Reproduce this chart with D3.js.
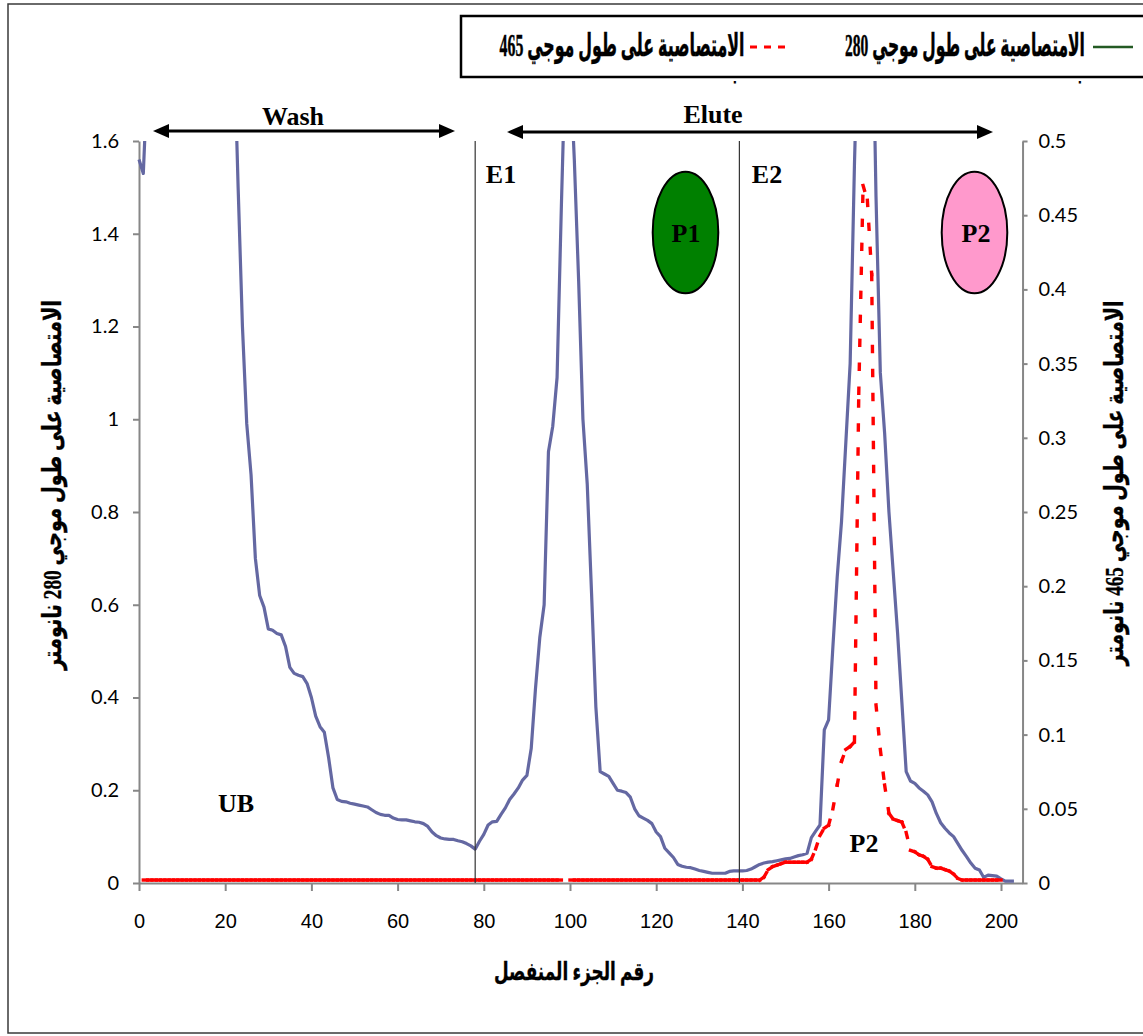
<!DOCTYPE html>
<html><head><meta charset="utf-8">
<script src="https://cdn.jsdelivr.net/npm/d3@7"></script>
<style>body{margin:0;background:#fff} svg{display:block}</style>
</head><body><svg id="c" width="1143" height="1036"></svg>
<script>
// ---------------- DATA ----------------
const fractions = d3.range(0, 204);   // fraction numbers 0..203

// absorbance at 280 nm (left axis); null = off-chart (above 1.6), unknown
const blue280 = [
  1.56, 1.53, 1.75, null, null, null, null, null, null, null,
  null, null, null, null, null, null, null, null, null, null,
  null, null, 1.83, 1.5, 1.2, 0.99, 0.88, 0.70, 0.62, 0.595,
  0.548, 0.545, 0.538, 0.535, 0.51, 0.465, 0.452, 0.448, 0.445, 0.43,
  0.40, 0.36, 0.337, 0.325, 0.27, 0.205, 0.18, 0.176, 0.175, 0.172,
  0.17, 0.168, 0.166, 0.164, 0.158, 0.152, 0.148, 0.146, 0.146, 0.14,
  0.137, 0.136, 0.136, 0.134, 0.132, 0.131, 0.128, 0.122, 0.11, 0.102,
  0.097, 0.095, 0.094, 0.094, 0.091, 0.089, 0.085, 0.08, 0.073, 0.09,
  0.105, 0.125, 0.132, 0.133, 0.148, 0.162, 0.18, 0.192, 0.205, 0.222,
  0.232, 0.29, 0.42, 0.53, 0.6, 0.93, 0.985, 1.09, 1.46, 1.8,
  1.77, 1.56, 1.3, 1.0, 0.86, 0.625, 0.38, 0.24, 0.235, 0.23,
  0.215, 0.2, 0.198, 0.195, 0.185, 0.16, 0.145, 0.14, 0.135, 0.128,
  0.11, 0.1, 0.075, 0.065, 0.055, 0.04, 0.036, 0.034, 0.033, 0.03,
  0.027, 0.025, 0.023, 0.021, 0.021, 0.021, 0.021, 0.025, 0.026, 0.026,
  0.026, 0.027, 0.03, 0.035, 0.04, 0.043, 0.045, 0.046, 0.048, 0.05,
  0.052, 0.053, 0.056, 0.059, 0.061, 0.064, 0.098, 0.112, 0.125, 0.33,
  0.352, 0.51, 0.66, 0.78, 0.95, 1.12, 1.55, 1.9, null, null,
  2.0, 1.48, 1.1, 0.97, 0.8, 0.67, 0.54, 0.39, 0.24, 0.22,
  0.215, 0.205, 0.198, 0.19, 0.175, 0.15, 0.13, 0.118, 0.108, 0.1,
  0.085, 0.07, 0.057, 0.043, 0.032, 0.028, 0.012, 0.017, 0.016, 0.015,
  0.009, 0.004, 0.004, 0.004
];

// absorbance at 465 nm (right axis)
const red465 = [
  null, 0.002, 0.002, 0.002, 0.002, 0.002, 0.002, 0.002, 0.002, 0.002,
  0.002, 0.002, 0.002, 0.002, 0.002, 0.002, 0.002, 0.002, 0.002, 0.002,
  0.002, 0.002, 0.002, 0.002, 0.002, 0.002, 0.002, 0.002, 0.002, 0.002,
  0.002, 0.002, 0.002, 0.002, 0.002, 0.002, 0.002, 0.002, 0.002, 0.002,
  0.002, 0.002, 0.002, 0.002, 0.002, 0.002, 0.002, 0.002, 0.002, 0.002,
  0.002, 0.002, 0.002, 0.002, 0.002, 0.002, 0.002, 0.002, 0.002, 0.002,
  0.002, 0.002, 0.002, 0.002, 0.002, 0.002, 0.002, 0.002, 0.002, 0.002,
  0.002, 0.002, 0.002, 0.002, 0.002, 0.002, 0.002, 0.002, 0.002, 0.002,
  0.002, 0.002, 0.002, 0.002, 0.002, 0.002, 0.002, 0.002, 0.002, 0.002,
  0.002, 0.002, 0.002, 0.002, 0.002, 0.002, 0.002, 0.002, 0.002, null,
  0.002, 0.002, 0.002, 0.002, 0.002, 0.002, 0.002, 0.002, 0.002, 0.002,
  0.002, 0.002, 0.002, 0.002, 0.002, 0.002, 0.002, 0.002, 0.002, 0.002,
  0.002, 0.002, 0.002, 0.002, 0.002, 0.002, 0.002, 0.002, 0.002, 0.002,
  0.002, 0.002, 0.002, 0.002, 0.002, 0.002, 0.002, 0.002, 0.002, 0.002,
  0.002, 0.002, 0.002, 0.002, 0.002, 0.004, 0.009, 0.011, 0.012, 0.013,
  0.014, 0.014, 0.014, 0.014, 0.014, 0.014, 0.016, 0.023, 0.032, 0.037,
  0.039, 0.05, 0.066, 0.082, 0.09, 0.092, 0.095, 0.33, 0.47, 0.46,
  0.41, 0.12, 0.09, 0.066, 0.047, 0.043, 0.042, 0.041, 0.034, 0.022,
  0.021, 0.019, 0.018, 0.016, 0.011, 0.01, 0.01, 0.009, 0.008, 0.006,
  0.003, 0.002, 0.002, 0.002, 0.002, 0.002, 0.002, 0.002, 0.002, 0.002,
  0.002, null, null, null
];

const xTicks = [0, 20, 40, 60, 80, 100, 120, 140, 160, 180, 200];
const xTickLabels = ["0","20","40","60","80","100","120","140","160","180","200"];
const leftTicks = [0, 0.2, 0.4, 0.6, 0.8, 1, 1.2, 1.4, 1.6];
const leftTickLabels = ["0","0.2","0.4","0.6","0.8","1","1.2","1.4","1.6"];
const rightTicks = [0, 0.05, 0.1, 0.15, 0.2, 0.25, 0.3, 0.35, 0.4, 0.45, 0.5];
const rightTickLabels = ["0","0.05","0.1","0.15","0.2","0.25","0.3","0.35","0.4","0.45","0.5"];
const dividers = [78, 139.3];
const seriesNames = ["الامتصاصية على طول موجي 280", "الامتصاصية على طول موجي 465"];
const unitWord = "نانومتر";
const leftTitle = "الامتصاصية على طول موجي 280 نانومتر";
const rightTitle = "الامتصاصية على طول موجي 465 نانومتر";
const xTitle = "رقم الجزء المنفصل";

// ---------------- LAYOUT ----------------
const svg = d3.select("#c");
const X0 = 139, Y0 = 883, YTOP = 141;
const x = d3.scaleLinear().domain([0, 205]).range([X0, X0 + 205 * 4.31]);
const yL = d3.scaleLinear().domain([0, 1.6]).range([Y0, YTOP]);
const yR = d3.scaleLinear().domain([0, 0.5]).range([Y0, YTOP]);
const XR = x(205);

const serif = "'Liberation Serif', 'Times New Roman', serif";
const arab = "'Liberation Serif', 'DejaVu Sans', sans-serif";
const AXC = "#878787";

svg.append("rect").attr("width", 1143).attr("height", 1036).attr("fill", "#fff");
// outer frame
svg.append("rect").attr("x", 8).attr("y", 4).attr("width", 1160).attr("height", 1029)
  .attr("fill", "none").attr("stroke", "#3a3a3a").attr("stroke-width", 1.5);

// clip
svg.append("clipPath").attr("id", "plotclip").append("rect")
  .attr("x", X0 - 5).attr("y", YTOP).attr("width", XR - X0 + 10).attr("height", Y0 - YTOP + 10);

// axes
const gL = svg.append("g").attr("transform", `translate(${X0},0)`)
  .call(d3.axisLeft(yL).tickValues(leftTicks).tickFormat((d, i) => leftTickLabels[i])
    .tickSizeInner(6).tickSizeOuter(0).tickPadding(14));
const gR = svg.append("g").attr("transform", `translate(${XR},0)`)
  .call(d3.axisRight(yR).tickValues(rightTicks).tickFormat((d, i) => rightTickLabels[i])
    .tickSizeInner(5).tickSizeOuter(0).tickPadding(11));
const gB = svg.append("g").attr("transform", `translate(0,${Y0})`)
  .call(d3.axisBottom(x).tickValues(xTicks).tickFormat((d, i) => xTickLabels[i])
    .tickSizeInner(8).tickSizeOuter(0).tickPadding(23));
[gL, gR, gB].forEach(g => {
  g.selectAll("path.domain").attr("stroke", AXC).attr("stroke-width", 2);
  g.selectAll(".tick line").attr("stroke", AXC).attr("stroke-width", 2);
});
[gL, gR].forEach(g => g.selectAll("text").attr("font-family", "Lato, 'Open Sans', sans-serif")
  .attr("font-size", 20).attr("fill", "#000"));
gB.selectAll("text").attr("font-family", "'Liberation Sans', Arial, sans-serif")
  .attr("font-size", 20).attr("fill", "#000");

// plot lines
const plot = svg.append("g").attr("clip-path", "url(#plotclip)");
const blueLine = d3.line().defined(d => d[1] != null)
  .x(d => x(d[0])).y(d => yL(d[1]));
plot.append("path").datum(fractions.map(i => [i, blue280[i]]))
  .attr("d", blueLine).attr("fill", "none").attr("stroke", "#6468A2")
  .attr("stroke-width", 3.2).attr("stroke-linejoin", "round");

// red dashed line: dash pattern restarts at every data point (as in the source)
const segs = [];
for (let i = 0; i < fractions.length - 1; i++) {
  if (red465[i] != null && red465[i + 1] != null)
    segs.push([[fractions[i], red465[i]], [fractions[i + 1], red465[i + 1]]]);
}
const redLine = d3.line().x(d => x(d[0])).y(d => yR(d[1]));
plot.selectAll("path.red").data(segs).join("path").attr("class", "red")
  .attr("d", redLine).attr("fill", "none").attr("stroke", "#ff0000")
  .attr("stroke-width", 3.4).attr("stroke-linecap", "square")
  .attr("stroke-dasharray", "5,19");

// dividers
svg.selectAll("line.div").data(dividers).join("line").attr("class", "div")
  .attr("x1", d => x(d)).attr("x2", d => x(d)).attr("y1", YTOP).attr("y2", Y0)
  .attr("stroke", "#333").attr("stroke-width", 1.2);

// ---------------- ANNOTATIONS ----------------
function dblArrow(x1, x2, y) {
  const g = svg.append("g");
  g.append("line").attr("x1", x1 + 10).attr("x2", x2 - 10).attr("y1", y).attr("y2", y)
    .attr("stroke", "#000").attr("stroke-width", 3);
  g.append("path").attr("d", `M${x1},${y} L${x1 + 16},${y - 7} L${x1 + 16},${y + 7} Z`).attr("fill", "#000");
  g.append("path").attr("d", `M${x2},${y} L${x2 - 16},${y - 7} L${x2 - 16},${y + 7} Z`).attr("fill", "#000");
}
dblArrow(153, 455, 131);
dblArrow(507, 993, 132);

function label(t, cx, by, size) {
  svg.append("text").attr("x", cx).attr("y", by).attr("text-anchor", "middle")
    .attr("font-family", serif).attr("font-weight", "bold").attr("font-size", size || 26)
    .attr("fill", "#000").text(t);
}
label("Wash", 293, 125);
label("Elute", 713, 123);
label("E1", 501, 183);
label("E2", 767, 183);
label("UB", 236, 812);
label("P2", 864, 852);

// ellipses
svg.append("ellipse").attr("cx", 685.5).attr("cy", 232.5).attr("rx", 32.8).attr("ry", 60.8)
  .attr("fill", "#008000").attr("stroke", "#000").attr("stroke-width", 2);
svg.append("ellipse").attr("cx", 974.5).attr("cy", 232.5).attr("rx", 32.8).attr("ry", 60.8)
  .attr("fill", "#ff99cc").attr("stroke", "#000").attr("stroke-width", 2);
label("P1", 686, 242);
label("P2", 976, 242);

// ---------------- ARABIC TEXTS (fitted to measured length) ----------------
function arText(t, cx, cy, size, len, rot, parent, sw) {
  const el = (parent || svg).append("text")
    .attr("text-anchor", "middle").attr("dominant-baseline", "central")
    .attr("direction", "rtl").style("direction", "rtl")
    .attr("font-family", arab).attr("font-weight", "bold").attr("font-size", size)
    .attr("stroke", "#000").attr("stroke-width", sw == null ? 0.35 : sw)
    .attr("fill", "#000").text(t);
  const w = el.node().getComputedTextLength() || len;
  const sx = len / w;
  el.attr("transform", `translate(${cx},${cy})` + (rot ? ` rotate(${rot})` : "") + ` scale(${sx},1)`);
  return el;
}
arText(leftTitle, 52, 485, 26, 370, -90);
arText(rightTitle, 1114, 483, 26, 365, -90);
arText(xTitle, 574, 972, 25, 160, 0);

// ---------------- LEGEND ----------------
svg.append("rect").attr("x", 461).attr("y", 16).attr("width", 720).attr("height", 61)
  .attr("fill", "#fff").attr("stroke", "#000").attr("stroke-width", 2.5);
svg.append("line").attr("x1", 1093).attr("x2", 1133).attr("y1", 47).attr("y2", 47)
  .attr("stroke", "#235a23").attr("stroke-width", 2.5);
svg.append("line").attr("x1", 750).attr("x2", 786).attr("y1", 47).attr("y2", 47)
  .attr("stroke", "#ff0000").attr("stroke-width", 3).attr("stroke-dasharray", "7,7");
arText(seriesNames[0], 965, 45, 32, 240, 0, null, 0.5);
arText(seriesNames[1], 622, 45, 32, 245, 0, null, 0.5);
// overflowing second lines of the legend entries (only their tops show)
svg.append("clipPath").attr("id", "legclip").append("rect")
  .attr("x", 461).attr("y", 78.5).attr("width", 680).attr("height", 5);
const legOver = svg.append("g").attr("clip-path", "url(#legclip)");
[721, 1066].forEach(cx => arText(unitWord, cx, 87, 13, 42, 0, legOver, 0));
</script></body></html>
